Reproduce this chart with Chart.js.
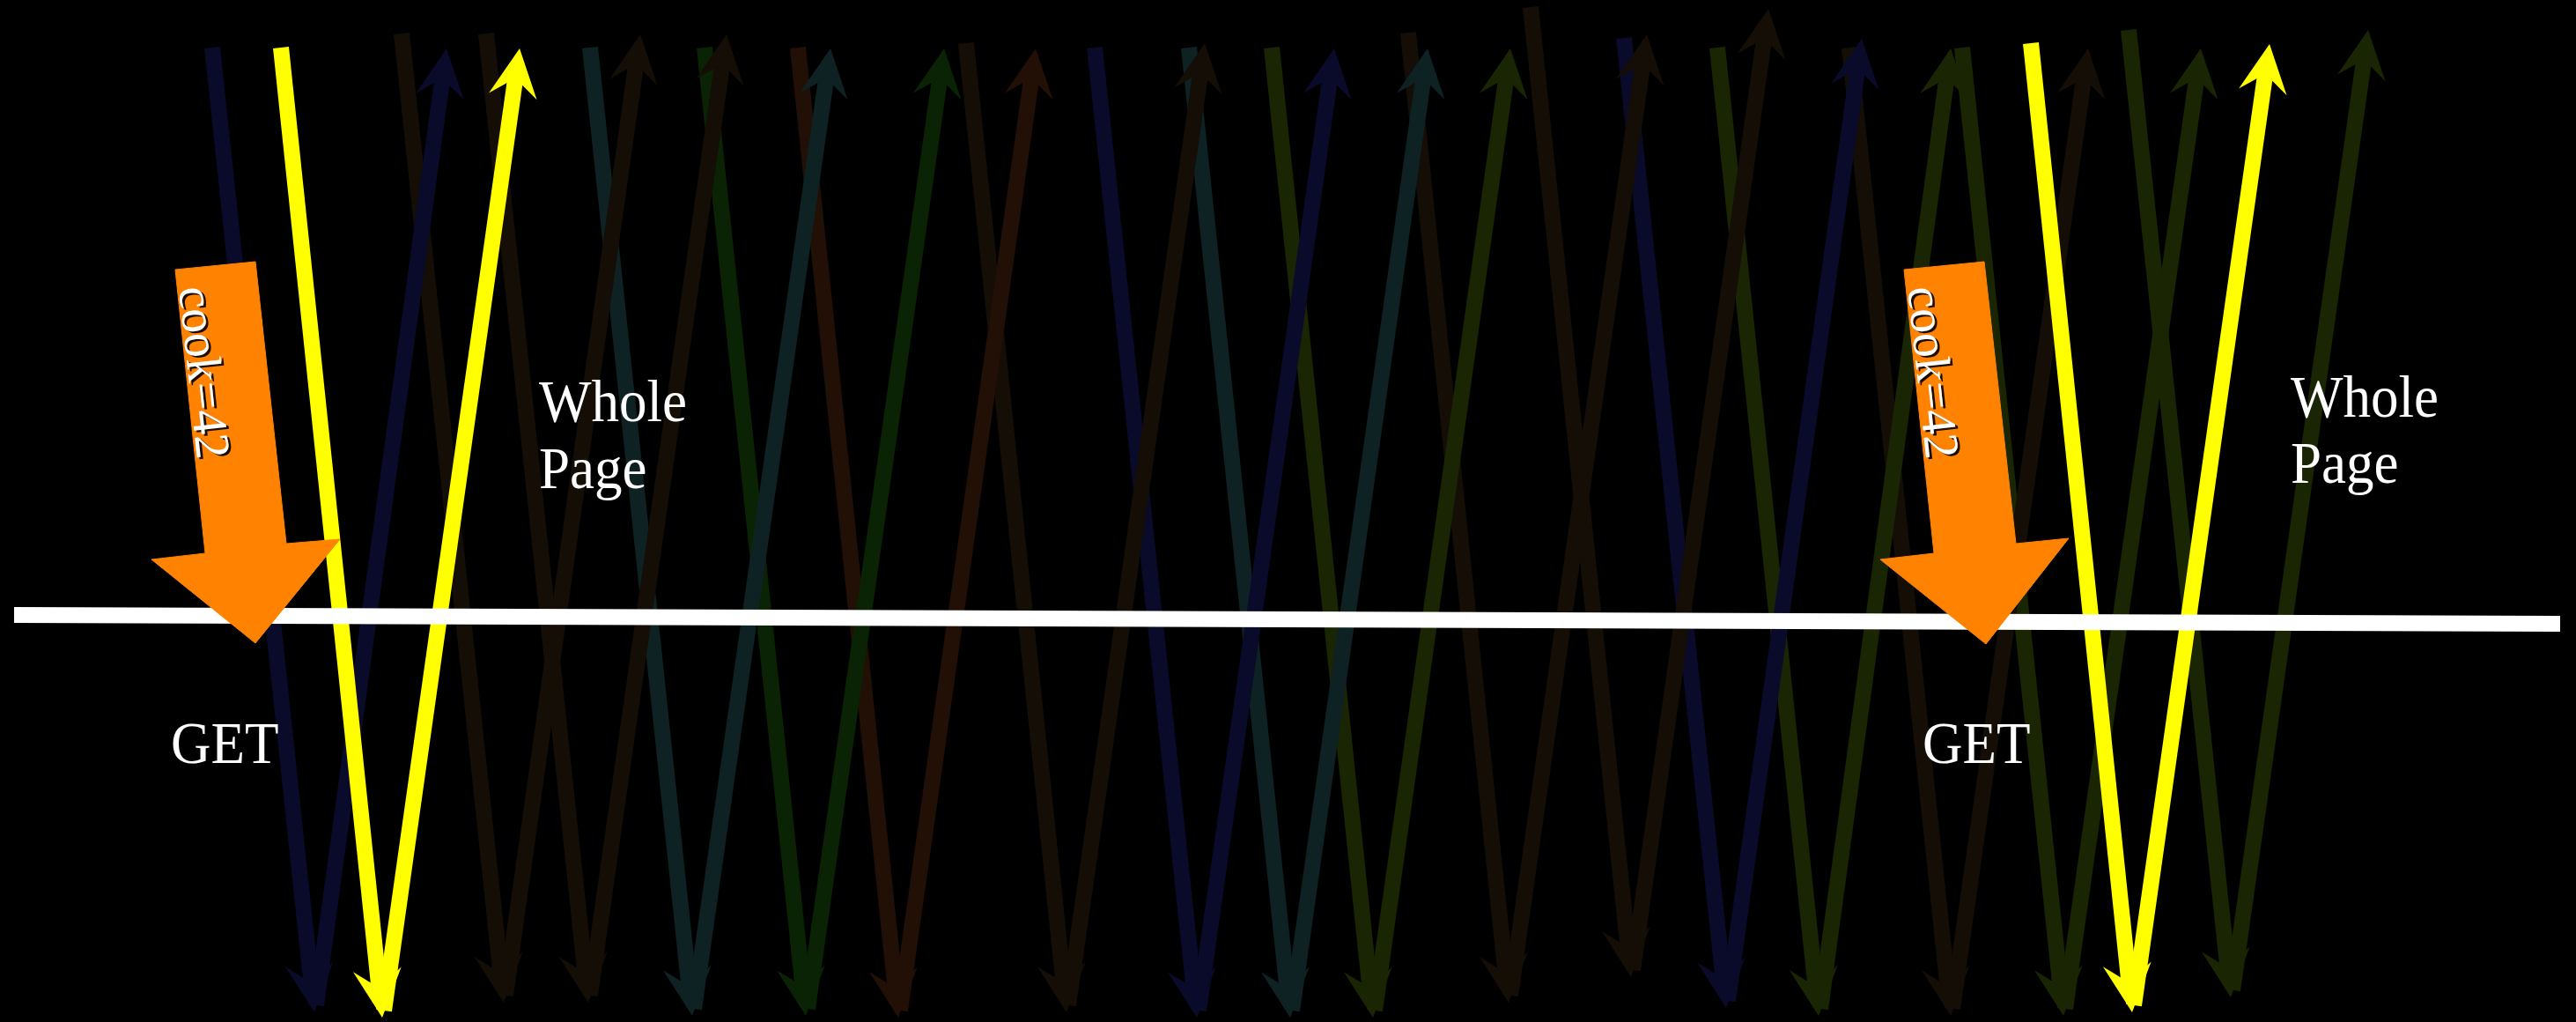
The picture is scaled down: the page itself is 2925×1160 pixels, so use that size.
<!DOCTYPE html>
<html lang="en">
<head>
<meta charset="UTF-8">
<title>Cookie request diagram</title>
<script src="https://cdn.jsdelivr.net/npm/chart.js"></script>
<style>
    html, body {
        margin: 0;
        padding: 0;
        background: #000;
        overflow: hidden;
    }
    .wrap {
        position: relative;
        width: 2925px;
        height: 1160px;
        background: #000;
    }
</style>
</head>
<body>
<div class="wrap"><canvas id="diagram"></canvas></div>
<script>
    // one entry per V: request goes down, response comes back up
    const arrowColors = ['#0a0a2a', '#ffff00', '#140e07', '#140e07', '#0e2224', '#0a2304', '#220f05',
                         '#140e07', '#0a0a2a', '#0e2224', '#1a2504', '#140e07', '#140e07', '#0a0a2a',
                         '#1a2504', '#140e07', '#1a2504', '#ffff00', '#1a2504'];
    const downStartX = [241, 319, 456, 552, 670, 800, 906, 1097, 1243, 1350, 1444, 1599, 1738, 1844, 1950, 2100, 2228, 2306, 2417];
    const downStartY = [54, 54, 38, 38, 54, 54, 54, 49, 54, 54, 54, 37, 8, 43, 54, 54, 54, 49, 34];
    const bottomX = [357, 434, 572, 668, 786, 915, 1020, 1211, 1359, 1465, 1559, 1713, 1852, 1960, 2065, 2215, 2343, 2421, 2533];
    const bottomY = [1149, 1155, 1138, 1138, 1153, 1153, 1155, 1149, 1155, 1155, 1155, 1138, 1109, 1144, 1153, 1153, 1153, 1149, 1132];
    const upTipX = [507, 590, 727, 825, 943, 1072, 1176, 1368, 1515, 1621, 1715, 1870, 2008, 2114, 2215, 2371, 2499, 2577, 2689];
    const upTipY = [55, 55, 39, 39, 55, 55, 55, 49, 55, 55, 55, 39, 10, 44, 55, 55, 55, 50, 34];

    // the network line
    const wireX = [16, 2907];
    const wireY = [698, 708];

    // orange cookie arrows (outline, clockwise from top-left)
    const cookieLeftX = [199, 290, 325, 386, 290, 172, 233];
    const cookieLeftY = [306, 297, 617, 612, 730, 635, 628];
    const cookieRightX = [2162, 2253, 2289, 2349, 2255, 2135, 2196];
    const cookieRightY = [306, 297, 617, 611, 731, 635, 628];

    // labels
    const labelText = ['Whole', 'Page', 'Whole', 'Page', 'GET', 'GET'];
    const labelX = [612, 612, 2601, 2601, 194, 2183];
    const labelY = [478, 554, 473, 548, 866, 866];
    const cookieText = 'cook=42';
    const cookieTextX = [203, 2166];
    const cookieTextY = [327, 327];

    const LINE_W = 18;
    const HEAD_LEN = 55;
    const HEAD_HALF = 27.5;
    const HEAD_NOTCH = 34;

    function pullBack(a, b, d) {
        const dx = b.x - a.x, dy = b.y - a.y;
        const len = Math.hypot(dx, dy);
        return {x: b.x - dx / len * d, y: b.y - dy / len * d};
    }

    function lineSet(from, tip, color, order) {
        return {
            data: [from, pullBack(from, tip, 30)],
            head: {from: from, tip: tip},
            borderColor: color,
            backgroundColor: color,
            borderWidth: LINE_W,
            borderCapStyle: 'butt',
            pointRadius: 0,
            fill: false,
            order: order,
            clip: false
        };
    }

    const datasets = [];

    // cookie arrows on top
    [[cookieLeftX, cookieLeftY], [cookieRightX, cookieRightY]].forEach(function (shape) {
        const pts = shape[0].map(function (x, i) { return {x: x, y: shape[1][i]}; });
        pts.push(pts[0]);
        datasets.push({
            data: pts,
            borderColor: '#ff8200',
            backgroundColor: '#ff8200',
            borderWidth: 1,
            pointRadius: 0,
            fill: 'shape',
            order: 1,
            clip: false
        });
    });

    datasets.push({
        data: [{x: wireX[0], y: wireY[0]}, {x: wireX[1], y: wireY[1]}],
        borderColor: '#ffffff',
        borderWidth: 18,
        borderCapStyle: 'butt',
        pointRadius: 0,
        fill: false,
        order: 3,
        clip: false
    });

    arrowColors.forEach(function (c, i) {
        const ord = c === '#ffff00' ? 5 : 10;
        const top = {x: downStartX[i], y: downStartY[i]};
        const bottom = {x: bottomX[i], y: bottomY[i]};
        const upFrom = {x: bottomX[i] + 2, y: bottomY[i] - 8};
        const upTip = {x: upTipX[i], y: upTipY[i]};
        datasets.push(lineSet(top, bottom, c, ord));
        datasets.push(lineSet(upFrom, upTip, c, ord));
    });

    const arrowHeads = {
        id: 'arrowHeads',
        afterDatasetDraw(chart, args) {
            const ds = chart.data.datasets[args.index];
            if (!ds.head) return;
            const sx = chart.scales.x, sy = chart.scales.y;
            const fx = sx.getPixelForValue(ds.head.from.x), fy = sy.getPixelForValue(ds.head.from.y);
            const tx = sx.getPixelForValue(ds.head.tip.x), ty = sy.getPixelForValue(ds.head.tip.y);
            const len = Math.hypot(tx - fx, ty - fy);
            const ux = (tx - fx) / len, uy = (ty - fy) / len;
            const nx = -uy, ny = ux;
            const ctx = chart.ctx;
            ctx.save();
            ctx.fillStyle = ds.borderColor;
            ctx.beginPath();
            ctx.moveTo(tx, ty);
            ctx.lineTo(tx - ux * HEAD_LEN + nx * HEAD_HALF, ty - uy * HEAD_LEN + ny * HEAD_HALF);
            ctx.lineTo(tx - ux * HEAD_NOTCH, ty - uy * HEAD_NOTCH);
            ctx.lineTo(tx - ux * HEAD_LEN - nx * HEAD_HALF, ty - uy * HEAD_LEN - ny * HEAD_HALF);
            ctx.closePath();
            ctx.fill();
            ctx.restore();
        }
    };

    const labels = {
        id: 'labels',
        afterDraw(chart) {
            const sx = chart.scales.x, sy = chart.scales.y;
            const ctx = chart.ctx;
            ctx.save();
            ctx.fillStyle = '#ffffff';
            ctx.textAlign = 'left';
            ctx.textBaseline = 'alphabetic';
            ctx.font = '63px "Liberation Serif", "Times New Roman", serif';
            labelText.forEach(function (t, i) {
                // the slide font is a little taller than Liberation Serif
                ctx.save();
                ctx.translate(sx.getPixelForValue(labelX[i]), sy.getPixelForValue(labelY[i]));
                ctx.scale(1, 1.06);
                ctx.fillText(t, 0, 0);
                ctx.restore();
            });

            // text written along the cookie arrow shaft
            [[cookieLeftX, cookieLeftY], [cookieRightX, cookieRightY]].forEach(function (shape, i) {
                const topMidX = (shape[0][0] + shape[0][1]) / 2, topMidY = (shape[1][0] + shape[1][1]) / 2;
                const botMidX = (shape[0][2] + shape[0][6]) / 2, botMidY = (shape[1][2] + shape[1][6]) / 2;
                const ang = Math.atan2(sy.getPixelForValue(botMidY) - sy.getPixelForValue(topMidY),
                                       sx.getPixelForValue(botMidX) - sx.getPixelForValue(topMidX));
                ctx.save();
                ctx.translate(sx.getPixelForValue(cookieTextX[i]), sy.getPixelForValue(cookieTextY[i]));
                ctx.rotate(ang);
                ctx.font = '56px "Liberation Serif", "Times New Roman", serif';
                ctx.shadowColor = 'rgba(0,0,0,0.9)';
                ctx.shadowOffsetX = 3;
                ctx.shadowOffsetY = 2;
                ctx.shadowBlur = 0;
                ctx.fillText(cookieText, 0, 0);
                ctx.restore();
            });
            ctx.restore();
        }
    };

    new Chart(document.getElementById('diagram'), {
        type: 'line',
        data: {datasets: datasets},
        options: {
            responsive: true,
            maintainAspectRatio: false,
            devicePixelRatio: 1,
            animation: false,
            events: [],
            layout: {padding: 0},
            elements: {line: {tension: 0}},
            scales: {
                x: {type: 'linear', min: 0, max: 2925, display: false},
                y: {type: 'linear', min: 0, max: 1160, reverse: true, display: false}
            },
            plugins: {
                legend: {display: false},
                tooltip: {enabled: false}
            }
        },
        plugins: [arrowHeads, labels]
    });
</script>
</body>
</html>
